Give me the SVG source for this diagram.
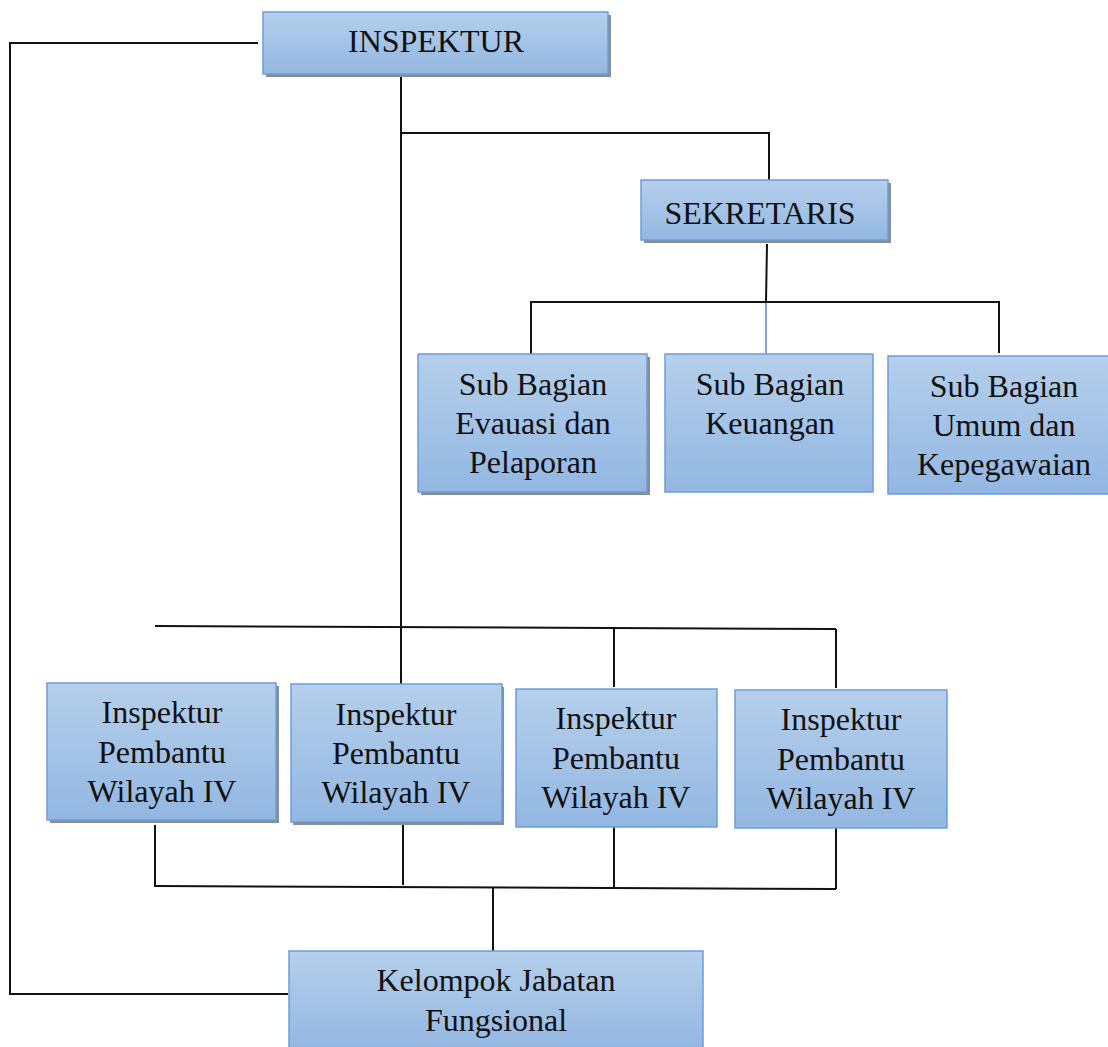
<svg xmlns="http://www.w3.org/2000/svg" width="1108" height="1047" viewBox="0 0 1108 1047">
<defs>
<linearGradient id="g" x1="0" y1="0" x2="0" y2="1">
<stop offset="0" stop-color="#b5cfeb"/>
<stop offset="1" stop-color="#93b7e2"/>
</linearGradient>
</defs>
<style>
.box{fill:url(#g);stroke:#6b9ddb;stroke-width:1.5}
.sh{fill:#8c8c8c}
.t{font-family:"Liberation Serif",serif;font-size:32px;fill:#111;text-anchor:middle}
.c{stroke:#111;stroke-width:2;fill:none}
</style>
<g id="connectors">
<polyline class="c" points="258,43 10,43 10,994 288,994"/>
<line class="c" x1="401" y1="74" x2="401" y2="684"/>
<polyline class="c" points="401,133 769,133 769,180"/>
<line class="c" x1="767" y1="244" x2="766" y2="302"/>
<line x1="766" y1="302" x2="766" y2="355" stroke="#5b86c4" stroke-width="1.5"/>
<polyline class="c" points="531,355 531,302 999,302 999,353"/>
<line class="c" x1="155" y1="626" x2="836" y2="629"/>
<line class="c" x1="614" y1="628" x2="614" y2="687"/>
<line class="c" x1="836" y1="629" x2="836" y2="688"/>
<line class="c" x1="155" y1="825" x2="155" y2="887"/>
<line class="c" x1="403" y1="822" x2="403" y2="885"/>
<line class="c" x1="614" y1="827" x2="614" y2="888"/>
<line class="c" x1="836" y1="828" x2="836" y2="889"/>
<line class="c" x1="155" y1="886" x2="836" y2="889"/>
<line class="c" x1="493" y1="887" x2="493" y2="951"/>
</g>
<g id="inspektur">
<rect class="sh" x="266" y="15" width="345" height="62"/>
<rect class="box" x="263" y="12" width="345" height="62"/>
<text class="t" x="436" y="52">INSPEKTUR</text>
</g>
<g id="sekretaris">
<rect class="sh" x="644" y="183" width="247" height="60"/>
<rect class="box" x="641" y="180" width="247" height="60"/>
<text class="t" x="760" y="224">SEKRETARIS</text>
</g>
<g id="sub1">
<rect class="sh" x="421" y="357" width="229" height="138"/>
<rect class="box" x="418" y="354" width="229" height="138"/>
<text class="t" x="533" y="395">Sub Bagian</text>
<text class="t" x="533" y="434">Evauasi dan</text>
<text class="t" x="533" y="473">Pelaporan</text>
</g>
<g id="sub2">
<rect class="box" x="665" y="354" width="208" height="138"/>
<text class="t" x="770" y="395">Sub Bagian</text>
<text class="t" x="770" y="434">Keuangan</text>
</g>
<g id="sub3">
<rect class="box" x="888" y="356" width="222" height="138"/>
<text class="t" x="1004" y="397">Sub Bagian</text>
<text class="t" x="1004" y="436">Umum dan</text>
<text class="t" x="1004" y="475">Kepegawaian</text>
</g>
<g id="ipw1">
<rect class="sh" x="50" y="686" width="229" height="137"/>
<rect class="box" x="47" y="683" width="229" height="137"/>
<text class="t" x="162" y="723">Inspektur</text>
<text class="t" x="162" y="763">Pembantu</text>
<text class="t" x="162" y="802">Wilayah IV</text>
</g>
<g id="ipw2">
<rect class="sh" x="293" y="687" width="211" height="138"/>
<rect class="box" x="291" y="684" width="211" height="138"/>
<text class="t" x="396" y="725">Inspektur</text>
<text class="t" x="396" y="764">Pembantu</text>
<text class="t" x="396" y="803">Wilayah IV</text>
</g>
<g id="ipw3">
<rect class="box" x="516" y="689" width="201" height="138"/>
<text class="t" x="616" y="729">Inspektur</text>
<text class="t" x="616" y="769">Pembantu</text>
<text class="t" x="616" y="808">Wilayah IV</text>
</g>
<g id="ipw4">
<rect class="box" x="735" y="690" width="212" height="138"/>
<text class="t" x="841" y="730">Inspektur</text>
<text class="t" x="841" y="770">Pembantu</text>
<text class="t" x="841" y="809">Wilayah IV</text>
</g>
<g id="kelompok">
<rect class="box" x="289" y="951" width="414" height="100"/>
<text class="t" x="496" y="991">Kelompok Jabatan</text>
<text class="t" x="496" y="1031">Fungsional</text>
</g>
</svg>
